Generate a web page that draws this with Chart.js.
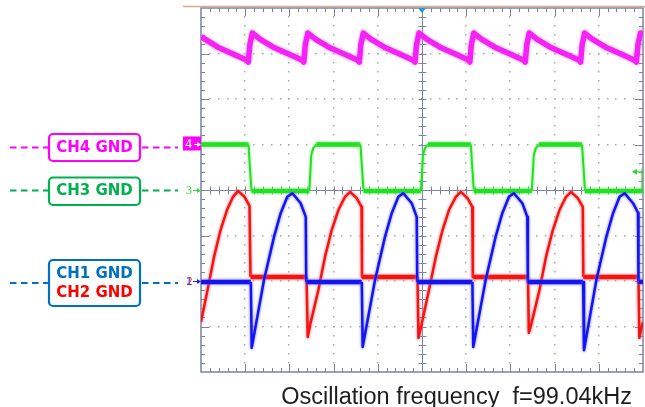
<!DOCTYPE html>
<html>
<head>
<meta charset="utf-8">
<script src="https://cdn.jsdelivr.net/npm/chart.js@4.4.1/dist/chart.umd.min.js"></script>
<style>
  html, body { margin: 0; padding: 0; background: #fff; }
  #wrap { width: 645px; height: 407px; }
</style>
</head>
<body>
<div id="wrap"><canvas id="scope" width="645" height="407"></canvas></div>
<script>
// --- Scope settings: x in microseconds (4 us/div), y in divisions ---
const timeDivs = 10;
const timePerDiv = 4;
const voltDivs = 8;
const caption = 'Oscillation frequency  f=99.04kHz';

// CH4 (magenta) sawtooth
const ch4Time = [0, 1.52, 3.06, 4.15, 4.28,
  4.42, 4.64, 5.37, 6.54, 8.08, 9.17, 9.30,
  9.44, 9.67, 10.39, 11.57, 13.10, 14.19, 14.33,
  14.46, 14.69, 15.41, 16.59, 18.13, 19.21, 19.37,
  19.50, 19.73, 20.45, 21.63, 23.17, 24.25, 24.33,
  24.46, 24.69, 25.41, 26.59, 28.13, 29.21, 29.34,
  29.48, 29.70, 30.43, 31.60, 33.14, 34.23, 34.35,
  34.49, 34.72, 35.44, 36.62, 38.16, 39.24, 39.40,
  39.54, 39.77, 40];
const ch4Volt = [3.37, 3.14, 2.97, 2.85, 2.81,
  3.19, 3.45, 3.31, 3.14, 2.97, 2.85, 2.81,
  3.19, 3.45, 3.31, 3.14, 2.97, 2.85, 2.81,
  3.19, 3.45, 3.31, 3.14, 2.97, 2.85, 2.81,
  3.19, 3.45, 3.31, 3.14, 2.97, 2.85, 2.81,
  3.19, 3.45, 3.31, 3.14, 2.97, 2.85, 2.81,
  3.19, 3.45, 3.31, 3.14, 2.97, 2.85, 2.81,
  3.19, 3.45, 3.31, 3.14, 2.97, 2.85, 2.81,
  3.19, 3.45, 3.41];

// CH3 (green) square wave
const ch3Time = [0, 4.30, 4.43, 4.57, 9.80, 9.98, 10.16, 10.43, 14.43, 14.57, 14.71,
  19.91, 20.09, 20.27, 20.54, 24.42, 24.55, 24.69, 29.94, 30.12, 30.30, 30.57,
  34.48, 34.62, 34.75, 40];
const ch3Volt = [1.0, 1.0, 0.48, -0.02, -0.02, 0.77, 0.92, 1.0, 1.0, 0.48, -0.02,
  -0.02, 0.77, 0.92, 1.0, 1.0, 0.48, -0.02, -0.02, 0.77, 0.92, 1.0,
  1.0, 0.48, -0.02, -0.02];

// CH2 (red)
const ch2Time = [0, 0.59, 1.18, 1.77, 2.35, 2.90, 3.35, 3.94, 4.39, 4.48,
  9.55, 9.66, 9.87, 10.62, 11.22, 11.83, 12.43, 13.03, 13.49, 14.09, 14.53, 14.57,
  19.59, 19.68, 19.91, 20.63, 21.25, 21.86, 22.44, 23.06, 23.51, 24.12, 24.55, 24.60,
  29.59, 29.67, 29.87, 30.63, 31.22, 31.84, 32.44, 33.03, 33.49, 34.10, 34.55, 34.60,
  39.59, 39.67, 39.86, 40];
const ch2Volt = [-2.90, -2.20, -1.47, -0.88, -0.44, -0.15, -0.02, -0.15, -0.35, -1.91,
  -1.91, -3.23, -2.97, -2.20, -1.47, -0.88, -0.44, -0.15, -0.04, -0.18, -0.37, -1.91,
  -1.91, -3.25, -3.01, -2.20, -1.47, -0.88, -0.44, -0.15, -0.04, -0.18, -0.37, -1.91,
  -1.91, -3.14, -2.97, -2.20, -1.47, -0.88, -0.44, -0.15, -0.04, -0.18, -0.37, -1.91,
  -1.91, -3.25, -3.03, -2.90];

// CH1 (blue)
const ch1Time = [0, 4.51,
  4.59, 5.70, 6.61, 7.21, 7.81, 8.28, 9.02, 9.48, 9.52, 14.55,
  14.63, 15.75, 16.65, 17.26, 17.86, 18.31, 19.07, 19.52, 19.57, 24.56,
  24.64, 25.76, 26.66, 27.27, 27.87, 28.32, 29.08, 29.53, 29.58, 34.58,
  34.66, 35.78, 36.68, 37.29, 37.88, 38.34, 39.10, 39.55, 39.59, 40];
const ch1Volt = [-2.02, -2.02,
  -3.47, -1.98, -1.03, -0.51, -0.15, -0.07, -0.29, -0.59, -2.02, -2.02,
  -3.45, -1.98, -1.03, -0.51, -0.15, -0.07, -0.29, -0.59, -2.02, -2.02,
  -3.45, -1.98, -1.03, -0.51, -0.15, -0.07, -0.29, -0.59, -2.02, -2.02,
  -3.52, -1.98, -1.03, -0.51, -0.15, -0.07, -0.29, -0.50, -2.02, -2.02];

// channel ground levels (divisions)
const groundLevels = { ch4: 1, ch3: 0, ch12: -2 };

const toPoints = (ts, vs) => ts.map((t, i) => ({ x: t, y: vs[i] }));
const flatWide = (wide, thin) => c => (c.p0.parsed.y === c.p1.parsed.y ? wide : thin);

// --- Plugins ---
const glow = {
  id: 'glow',
  beforeDatasetDraw(chart, args) {
    const ds = chart.data.datasets[args.index];
    chart.ctx.save();
    chart.ctx.shadowColor = ds.glowColor;
    chart.ctx.shadowBlur = 3;
  },
  afterDatasetDraw(chart) {
    chart.ctx.restore();
  }
};

const scopeGrid = {
  id: 'scopeGrid',
  beforeDatasetsDraw(chart) {
    const { ctx, chartArea: a, scales: { x, y } } = chart;
    const frame = '#7b82a6';
    ctx.save();

    // dotted graticule
    ctx.fillStyle = '#a9a9a9';
    for (let i = 1; i < timeDivs; i++) {
      if (i === timeDivs / 2) continue;
      const px = Math.round(x.getPixelForValue(i * timePerDiv));
      for (let k = 1; k < voltDivs * 5; k++) {
        const py = Math.round(y.getPixelForValue(-4 + k * 0.2));
        ctx.fillRect(px - 1, py - 1, 1.5, 1.5);
      }
    }
    for (let j = 1; j < voltDivs; j++) {
      if (j === voltDivs / 2) continue;
      const py = Math.round(y.getPixelForValue(-4 + j));
      for (let k = 1; k < timeDivs * 5; k++) {
        const px = Math.round(x.getPixelForValue(k * timePerDiv / 5));
        ctx.fillRect(px - 1, py - 1, 1.5, 1.5);
      }
    }

    ctx.strokeStyle = frame;
    ctx.lineWidth = 1;
    const cx = Math.round(x.getPixelForValue(20)) + 0.5;
    const cy = Math.round(y.getPixelForValue(0)) + 0.5;
    ctx.beginPath();
    ctx.moveTo(cx, a.top); ctx.lineTo(cx, a.bottom);
    ctx.moveTo(a.left, cy); ctx.lineTo(a.right, cy);

    // ticks along x
    for (let k = 1; k < timeDivs * 5; k++) {
      const px = Math.round(x.getPixelForValue(k * timePerDiv / 5)) + 0.5;
      const len = k % 5 === 0 ? 8 : 4;
      ctx.moveTo(px, cy - 4); ctx.lineTo(px, cy + 4);
      ctx.moveTo(px, a.top); ctx.lineTo(px, a.top + len);
      ctx.moveTo(px, a.bottom); ctx.lineTo(px, a.bottom - len);
    }
    // ticks along y
    for (let k = 1; k < voltDivs * 5; k++) {
      const py = Math.round(y.getPixelForValue(-4 + k * 0.2)) + 0.5;
      const len = k % 5 === 0 ? 8 : 4;
      ctx.moveTo(cx - 4, py); ctx.lineTo(cx + 4, py);
      ctx.moveTo(a.left, py); ctx.lineTo(a.left + len, py);
      ctx.moveTo(a.right, py); ctx.lineTo(a.right - len, py);
    }
    ctx.stroke();

    ctx.lineWidth = 1.5;
    ctx.strokeRect(a.left, a.top, a.right - a.left, a.bottom - a.top);
    ctx.restore();
  },
  afterDraw(chart) {
    const { ctx, chartArea: a, scales: { x, y } } = chart;
    ctx.save();

    // top frame line of the screenshot
    ctx.strokeStyle = '#d8ac8e';
    ctx.lineWidth = 1.5;
    ctx.beginPath();
    ctx.moveTo(183, a.top - 1.5); ctx.lineTo(645, a.top - 1.5);
    ctx.stroke();

    // trigger position marker
    const tx = x.getPixelForValue(20);
    ctx.fillStyle = '#2399d8';
    ctx.beginPath();
    ctx.moveTo(tx - 4, a.top); ctx.lineTo(tx + 4, a.top); ctx.lineTo(tx, a.top + 5);
    ctx.closePath(); ctx.fill();

    // trigger level arrow (green)
    const ty = y.getPixelForValue(0.4);
    ctx.strokeStyle = '#2fd62f';
    ctx.fillStyle = '#2fd62f';
    ctx.lineWidth = 1.2;
    ctx.beginPath();
    ctx.moveTo(a.right - 10, ty); ctx.lineTo(a.right - 1, ty);
    ctx.moveTo(a.right - 1, ty - 3); ctx.lineTo(a.right - 1, y.getPixelForValue(0));
    ctx.stroke();
    ctx.beginPath();
    ctx.moveTo(a.right - 11, ty); ctx.lineTo(a.right - 6, ty - 3); ctx.lineTo(a.right - 6, ty + 3);
    ctx.closePath(); ctx.fill();

    // ground markers on the left edge
    const g4 = y.getPixelForValue(groundLevels.ch4);
    const g3 = y.getPixelForValue(groundLevels.ch3);
    const g12 = y.getPixelForValue(groundLevels.ch12);
    const arrow = (yy, color, x0) => {
      ctx.strokeStyle = color; ctx.fillStyle = color; ctx.lineWidth = 1;
      ctx.beginPath(); ctx.moveTo(x0, yy); ctx.lineTo(a.left - 1, yy); ctx.stroke();
      ctx.beginPath(); ctx.moveTo(a.left, yy); ctx.lineTo(a.left - 4, yy - 2.5); ctx.lineTo(a.left - 4, yy + 2.5);
      ctx.closePath(); ctx.fill();
    };
    ctx.fillStyle = '#ff00ff';
    ctx.fillRect(183, g4 - 8, 18, 14);
    ctx.font = '12px "DejaVu Sans"';
    ctx.textBaseline = 'middle';
    ctx.textAlign = 'left';
    ctx.fillStyle = '#ffffff';
    ctx.fillText('4', 185, g4);
    arrow(g4, '#ffffff', 194);
    ctx.fillStyle = '#33dd33';
    ctx.font = '12px "Liberation Serif"';
    ctx.fillText('3', 186, g3 + 1);
    arrow(g3 + 0.5, '#33dd33', 193);
    ctx.fillStyle = '#ff2020';
    ctx.fillText('2', 186.5, g12 + 1);
    ctx.fillStyle = '#2020ff';
    ctx.fillText('1', 186, g12 + 1);
    arrow(g12 + 0.5, '#2020ff', 193);

    // GND label boxes with dashed leaders
    const label = (cy, top, h, color, lines) => {
      ctx.strokeStyle = color;
      ctx.lineWidth = 2;
      ctx.setLineDash([6.5, 4.5]);
      ctx.beginPath();
      ctx.moveTo(10, cy); ctx.lineTo(48, cy);
      ctx.moveTo(142, cy); ctx.lineTo(178, cy);
      ctx.stroke();
      ctx.setLineDash([]);
      ctx.lineWidth = 2.2;
      ctx.beginPath();
      ctx.roundRect(49, top, 91, h, 4);
      ctx.fillStyle = '#ffffff';
      ctx.fill();
      ctx.stroke();
      ctx.font = 'bold 15px "DejaVu Sans"';
      ctx.textAlign = 'center';
      ctx.textBaseline = 'middle';
      lines.forEach(l => {
        ctx.fillStyle = l.color;
        ctx.fillText(l.text, 94.5, l.y);
      });
    };
    label(147.5, 134, 27, '#ff00ff', [{ text: 'CH4 GND', color: '#ff00ff', y: 148.5 }]);
    label(190.5, 177.5, 27.5, '#00b050', [{ text: 'CH3 GND', color: '#00b050', y: 191.5 }]);
    label(283, 260, 46, '#0070c0', [
      { text: 'CH1 GND', color: '#0070c0', y: 274 },
      { text: 'CH2 GND', color: '#ff0000', y: 293 }
    ]);

    // caption
    ctx.font = '23.5px "Liberation Sans"';
    ctx.textAlign = 'right';
    ctx.textBaseline = 'alphabetic';
    ctx.fillStyle = '#1e1e1e';
    ctx.fillText(caption, 632, 404);
    ctx.restore();
  }
};

new Chart(document.getElementById('scope'), {
  type: 'line',
  data: {
    datasets: [
      { label: 'CH1', data: toPoints(ch1Time, ch1Volt), borderColor: '#1414f0', glowColor: '#7070ff',
        borderWidth: 2.5, segment: { borderWidth: flatWide(4.5, 2.5) } },
      { label: 'CH2', data: toPoints(ch2Time, ch2Volt), borderColor: '#f51414', glowColor: '#ff7070',
        borderWidth: 2.5, segment: { borderWidth: flatWide(4.5, 2.5) } },
      { label: 'CH3', data: toPoints(ch3Time, ch3Volt), borderColor: '#22e022', glowColor: '#80f080',
        borderWidth: 2, segment: { borderWidth: flatWide(4.5, 2) } },
      { label: 'CH4', data: toPoints(ch4Time, ch4Volt), borderColor: '#f522f5', glowColor: '#ff90ff',
        borderWidth: 5.5 }
    ]
  },
  options: {
    responsive: false,
    animation: false,
    events: [],
    layout: { padding: { left: 201, top: 8, right: 2, bottom: 35 } },
    elements: { point: { radius: 0 }, line: { tension: 0, fill: false, borderJoinStyle: 'round' } },
    scales: {
      x: { type: 'linear', min: 0, max: timeDivs * timePerDiv, display: false },
      y: { type: 'linear', min: -voltDivs / 2, max: voltDivs / 2, display: false }
    },
    plugins: { legend: { display: false }, tooltip: { enabled: false } }
  },
  plugins: [scopeGrid, glow]
});
</script>
</body>
</html>
